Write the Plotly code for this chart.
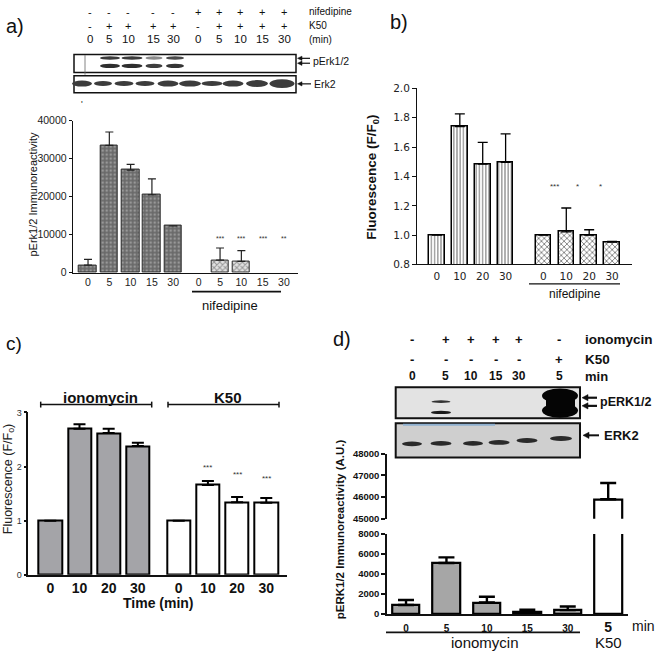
import plotly.graph_objects as go

W, H = 662, 658


def X(px):
    return px / W


def Y(py):
    return 1 - py / H


# ---------------- data ----------------
# panel a
a_labels = ["0", "5", "10", "15", "30", "0", "5", "10", "15", "30"]
a_ctrl_vals = [2000, 33500, 27000, 20500, 12300]
a_ctrl_err = [1500, 3500, 1500, 4200, 0]
a_nif_vals = [0, 3300, 3000, 0, 0]
a_nif_err = [0, 3200, 2800, 0, 0]
a_nif_stars = ["", "***", "***", "***", "**"]
a_nif_row = ["-"] * 5 + ["+"] * 5
a_k50_row = ["-", "+", "+", "+", "+", "-", "+", "+", "+", "+"]
a_ticks = [0, 10000, 20000, 30000, 40000]

# panel b
b_labels = ["0", "10", "20", "30"]
b_ctrl_vals = [1.0, 1.74, 1.485, 1.497]
b_ctrl_err = [0, 0.087, 0.148, 0.193]
b_nif_vals = [1.0, 1.022, 1.0, 0.952]
b_nif_err = [0, 0.163, 0.037, 0.006]
b_stars = ["***", "*", "*", ""]
b_ticks = [0.8, 1.0, 1.2, 1.4, 1.6, 1.8, 2.0]

# panel c
c_labels = ["0", "10", "20", "30"]
c_iono_vals = [1.0, 2.70, 2.62, 2.38]
c_iono_err = [0, 0.08, 0.08, 0.06]
c_k50_vals = [1.0, 1.66, 1.34, 1.33]
c_k50_err = [0, 0.075, 0.095, 0.09]
c_stars = ["", "***", "***", "***"]
c_ticks = [0, 1, 2, 3]

# panel d
d_labels = ["0", "5", "10", "15", "30", "5"]
d_vals = [900, 5100, 1150, 260, 390, 45900]
d_err = [500, 550, 580, 160, 360, 750]
d_iono_row = ["-", "+", "+", "+", "+", "-"]
d_k50_row = ["-", "-", "-", "-", "-", "+"]
d_low_ticks = [0, 2000, 4000, 6000, 8000]
d_high_ticks = [45000, 46000, 47000, 48000]

# ---------------- layout helpers ----------------
a_pos_c = [float(i) for i in range(len(a_ctrl_vals))]
a_pos_n = [i + 5.2 for i in range(len(a_nif_vals))]
b_pos_c = [float(i) for i in range(len(b_ctrl_vals))]
b_pos_n = [i + 4.65 for i in range(len(b_nif_vals))]
c_pos_i = [float(i) for i in range(len(c_iono_vals))]
c_pos_k = [i + 4.4 for i in range(len(c_k50_vals))]
d_pos = [float(i) for i in range(len(d_vals))]

AR = "Liberation Sans"
DV = "DejaVu Sans"

fig = go.Figure()


def nz(v):
    # zero-height bars are not drawn in the reference
    return [x if x else None for x in v]


def errs(v):
    return dict(type="data", symmetric=False, array=v, arrayminus=[0] * len(v))


# panel a bars
fig.add_bar(x=a_pos_c, y=a_ctrl_vals, xaxis="x", yaxis="y", width=0.83,
            marker=dict(color="#6c6c6c", line=dict(color="#2a2a2a", width=1),
                        pattern=dict(shape=".", fgcolor="#c6c6c6", bgcolor="#6a6a6a",
                                     size=4, solidity=0.3)),
            error_y=dict(**errs(a_ctrl_err), color="#222", thickness=1.2, width=4),
            showlegend=False)
fig.add_bar(x=a_pos_n, y=nz(a_nif_vals), xaxis="x", yaxis="y", width=0.83,
            marker=dict(color="#9a9a9a", line=dict(color="#2a2a2a", width=1),
                        pattern=dict(shape="x", fgcolor="#4a4a4a", bgcolor="#e2e2e2",
                                     size=4, solidity=0.45)),
            error_y=dict(**errs(a_nif_err), color="#222", thickness=1.2, width=4),
            showlegend=False)

# panel b bars
fig.add_bar(x=b_pos_c, y=b_ctrl_vals, base=0, xaxis="x2", yaxis="y2", width=0.68,
            marker=dict(color="white", line=dict(color="black", width=1.5),
                        pattern=dict(shape="|", fgcolor="black", bgcolor="white",
                                     size=3.2, solidity=0.35)),
            error_y=dict(**errs(b_ctrl_err), color="black", thickness=1.3, width=5),
            showlegend=False)
fig.add_bar(x=b_pos_n, y=b_nif_vals, base=0, xaxis="x2", yaxis="y2", width=0.68,
            marker=dict(color="white", line=dict(color="black", width=1.5),
                        pattern=dict(shape="x", fgcolor="black", bgcolor="white",
                                     size=4, solidity=0.4)),
            error_y=dict(**errs(b_nif_err), color="black", thickness=1.3, width=5),
            showlegend=False)

# panel c bars
fig.add_bar(x=c_pos_i, y=c_iono_vals, xaxis="x3", yaxis="y3", width=0.8,
            marker=dict(color="#a4a4a8", line=dict(color="black", width=2)),
            error_y=dict(**errs(c_iono_err), color="black", thickness=2, width=6),
            showlegend=False)
fig.add_bar(x=c_pos_k, y=c_k50_vals, xaxis="x3", yaxis="y3", width=0.8,
            marker=dict(color="white", line=dict(color="black", width=2)),
            error_y=dict(**errs(c_k50_err), color="black", thickness=2, width=6),
            showlegend=False)

# panel d bars (broken axis: same data in lower and upper segment)
d_cols = ["#a6a6a6"] * 5 + ["white"]
for xa, ya in (("x4", "y4"), ("x5", "y5")):
    fig.add_bar(x=d_pos, y=d_vals, xaxis=xa, yaxis=ya, width=0.68,
                marker=dict(color=d_cols, line=dict(color="black", width=2.2)),
                error_y=dict(**errs(d_err), color="black", thickness=2.4, width=8),
                showlegend=False)

# ---------------- axes ----------------
def yax(dom, rng, tv, tt, font, lw=1, tl=3, anchor="x"):
    return dict(domain=dom, range=rng, anchor=anchor, showline=True, linecolor="#111",
                linewidth=lw, ticks="outside", ticklen=tl, tickwidth=lw, tickcolor="#111",
                tickvals=tv, ticktext=tt, tickfont=font, showgrid=False, zeroline=False,
                fixedrange=True)


def xax(dom, rng, tv, tt, font, lw=1, anchor="y", show=True, so=0):
    return dict(domain=dom, range=rng, anchor=anchor, showline=show, linecolor="#111",
                linewidth=lw, ticks="", ticklen=0, tickvals=tv, ticktext=tt, tickfont=font,
                showticklabels=show, showgrid=False, zeroline=False, fixedrange=True,
                ticklabelstandoff=so)


fa = dict(family=AR, size=10.5, color="#222")
fb = dict(family=DV, size=10.5, color="#222")
fc_y = dict(family=AR, size=9, color="#333")
fc_x = dict(family=AR, size=14, color="#111", weight="bold")
fd = dict(family=AR, size=9.5, color="#111", weight="bold")
fd_x = dict(family=AR, size=10, color="#111", weight="bold")

d_ticktext = d_labels[:-1] + ["<span style='font-size:14px'>" + d_labels[-1] + "</span>"]

fig.update_layout(
    xaxis=xax([X(72.7), X(298)], [-0.72, 9.86], a_pos_c + a_pos_n, a_labels, fa, anchor="y"),
    yaxis=yax([Y(271.7), Y(116.7)], [0, 40000], a_ticks, [str(t) for t in a_ticks], fa, anchor="x"),
    xaxis2=xax([X(417), X(632)], [-0.87, 8.52], b_pos_c + b_pos_n, b_labels + b_labels, fb, anchor="y2", so=2),
    yaxis2=yax([Y(263.3), Y(84)], [0.8, 2.0], b_ticks, ["%.1f" % t for t in b_ticks], fb, tl=4, anchor="x2"),
    xaxis3=xax([X(28.3), X(287)], [-0.754, 8.11], c_pos_i + c_pos_k, c_labels + c_labels, fc_x, lw=1.5, anchor="y3"),
    yaxis3=yax([Y(579.3), Y(414)], [0, 3], c_ticks, [str(t) for t in c_ticks], fc_y, lw=1.5, tl=3, anchor="x3"),
    xaxis4=xax([X(387.3), X(628)], [-0.463, 5.49], d_pos, d_ticktext, fd_x, lw=2, anchor="y4", so=4),
    yaxis4=yax([Y(619.3), Y(537.7)], [0, 8000], d_low_ticks, [str(t) for t in d_low_ticks], fd, lw=2, tl=4, anchor="x4"),
    xaxis5=xax([X(387.3), X(628)], [-0.463, 5.49], d_pos, d_labels, fd_x, lw=2, anchor="y5", show=False),
    yaxis5=yax([Y(522.3), Y(456)], [45000, 48000], d_high_ticks, [str(t) for t in d_high_ticks], fd, lw=2, tl=4, anchor="x5"),
)

# ---------------- annotations & shapes ----------------
ann = []
shp = []


def txt(x, y, s, size, family=AR, bold=False, xanchor="center", angle=0, color="#111"):
    ann.append(dict(x=X(x), y=Y(y), xref="paper", yref="paper", text=s, showarrow=False,
                    xanchor=xanchor, yanchor="middle", textangle=angle,
                    font=dict(family=family, size=size, color=color,
                              weight="bold" if bold else "normal")))


def line(x0, y0, x1, y1, w=1.5, color="#111"):
    shp.append(dict(type="line", xref="paper", yref="paper", x0=X(x0), y0=Y(y0),
                    x1=X(x1), y1=Y(y1), line=dict(color=color, width=w)))


def rect(x0, y0, x1, y1, fill="white", lw=1.5, lc="#111"):
    shp.append(dict(type="rect", xref="paper", yref="paper", x0=X(x0), y0=Y(y1),
                    x1=X(x1), y1=Y(y0), fillcolor=fill,
                    line=dict(color=lc, width=lw)))


def band(cx, cy, w, h, color):
    shp.append(dict(type="circle", xref="paper", yref="paper", x0=X(cx - w / 2),
                    x1=X(cx + w / 2), y0=Y(cy + h / 2), y1=Y(cy - h / 2),
                    fillcolor=color, line=dict(width=0)))


def arrow(xh, y, xt, w=1.3, hl=5, hw=2.5):
    # left-pointing arrow: shaft + filled triangular head
    line(xh + hl - 0.5, y, xt, y, w=w)
    path = "M %f,%f L %f,%f L %f,%f Z" % (X(xh), Y(y), X(xh + hl), Y(y - hw),
                                          X(xh + hl), Y(y + hw))
    shp.append(dict(type="path", xref="paper", yref="paper", path=path,
                    fillcolor="#111", line=dict(color="#111", width=0.5)))


def sub_star(xref, yref, x, y, s, size, xshift=0):
    ann.append(dict(x=x, y=y, xref=xref, yref=yref, text=s, showarrow=False,
                    xshift=xshift, yanchor="middle",
                    font=dict(family=AR, size=size, color="#333")))


# ---- panel a ----
txt(4, 20, "a)", 20, xanchor="left")
a_cols = [90, 109, 128, 153, 173, 198, 219, 240, 262, 284]
for cx, s1, s2, s3 in zip(a_cols, a_nif_row, a_k50_row, a_labels):
    txt(cx, 6, s1, 11)
    txt(cx, 20, s2, 11)
    txt(cx, 34, s3, 11.5)
txt(307, 6, "nifedipine", 10, xanchor="left")
txt(307, 20, "K50", 10, xanchor="left")
txt(307, 34, "(min)", 10, xanchor="left")
rect(74, 49.3, 296, 67.7)
rect(74, 71, 296, 88.3)
line(85, 50, 85, 70, w=0.8, color="#666")
for cx, w, up, lo in [(110, 20, "#3a3a3a", "#2e2e2e"), (132, 21, "#3a3a3a", "#2e2e2e"),
                      (154, 17, "#8a8a8a", "#3e3e3e"), (175, 18, "#4a4a4a", "#353535")]:
    band(cx, 53, w, 3.4, up)
    band(cx, 61, w, 4.4, lo)
for cx, w, h in [(82, 20, 6), (103, 18, 5), (124, 19, 5), (145, 19, 5), (168, 21, 6),
                 (190, 22, 6), (212, 21, 5), (233, 21, 6), (257, 22, 7), (282, 25, 9)]:
    band(cx, 79, w, h, "#3c3c3c")
arrow(297.5, 53.3, 310, w=1.2, hl=4.5, hw=2.2)
arrow(297.5, 58.3, 310, w=1.2, hl=4.5, hw=2.2)
txt(311, 56.5, "pErk1/2", 10.5, xanchor="left")
arrow(297.5, 79.3, 311, w=1.2, hl=4.5, hw=2.2)
txt(312, 79.3, "Erk2", 10.5, xanchor="left")
txt(82, 100, "ʹ", 9)
txt(33, 192, "pErk1/2 Immunoreactivity", 11, angle=-90)
for x, s in zip(a_pos_n, a_nif_stars):
    if s:
        sub_star("x", "y", x, 9000, s, 7)
line(192, 291, 281, 291, w=1.8)
txt(230, 305, "nifedipine", 13)

# ---- panel b ----
txt(388, 16, "b)", 20, xanchor="left")
txt(373, 175, "Fluorescence (F/F<sub>0</sub>)", 13.5, bold=True, angle=-90)
for x, s in zip(b_pos_n, b_stars):
    if s:
        sub_star("x2", "y2", x, 1.335, s, 8, xshift=11)
line(529, 283, 620, 283, w=1.2)
txt(575, 293.5, "nifedipine", 12)

# ---- panel c ----
txt(4, 344, "c)", 19, xanchor="left")
txt(9, 482, "Fluorescence (F/F<sub>o</sub>)", 12.5, angle=-90, color="#222")
for x0, x1 in [(40.7, 151.7), (168, 279)]:
    line(x0, 406, x1, 406, w=1.5)
    line(x0, 403, x0, 409, w=1.5)
    line(x1, 403, x1, 409, w=1.5)
txt(100, 399, "ionomycin", 15, bold=True)
txt(228, 399, "K50", 15, bold=True)
c_star_y = [0, 1.98, 1.86, 1.78]
for x, s, yy in zip(c_pos_k, c_stars, c_star_y):
    if s:
        sub_star("x3", "y3", x, yy, s, 8)
txt(158, 608, "Time (min)", 14, bold=True)

# ---- panel d ----
txt(331, 339, "d)", 20, xanchor="left")
d_cols = [412, 445.5, 471, 495.5, 518.5, 559]
for cx, s1, s2, s3 in zip(d_cols, d_iono_row, d_k50_row, d_labels):
    txt(cx, 340, s1, 13, bold=True)
    txt(cx, 360, s2, 13, bold=True)
    txt(cx, 377, s3, 12, bold=True)
txt(583, 340, "ionomycin", 13.5, bold=True, xanchor="left")
txt(583, 360, "K50", 13.5, bold=True, xanchor="left")
txt(583, 377, "min", 13, bold=True, xanchor="left")
rect(395.7, 388.3, 580, 420, fill="#e3e3e3", lw=2)
band(441, 403, 19, 2.6, "#333")
band(441, 414, 20, 3.4, "#1a1a1a")
band(560, 397, 36, 15, "#050505")
band(560, 412, 36, 15, "#050505")
rect(546, 395, 575, 414, fill="#050505", lw=0)
rect(395.7, 425, 580, 460, fill="#cfcfcf", lw=2)
line(403, 426.5, 495, 426.5, w=2, color="#8fb0cf")
for cx, cy, w in [(412, 446, 20), (441, 445.5, 21), (473, 445.5, 20),
                  (499, 444.5, 21), (527, 442.5, 21), (561, 440.5, 22)]:
    band(cx, cy, w, 5, "#2a2a2a")
arrow(582, 399, 597, w=2.2, hl=6, hw=3.2)
arrow(582, 407.3, 597, w=2.2, hl=6, hw=3.2)
txt(598, 403.3, "pERK1/2", 12.5, bold=True, xanchor="left")
arrow(583, 437.3, 599, w=2, hl=6, hw=3.2)
txt(602, 437.3, "ERK2", 13, bold=True, xanchor="left")
txt(340, 533, "pERK1/2 Immunoreactivity (A.U.)", 11.5, bold=True, angle=-90)
line(386, 638, 580, 638, w=1.8)
txt(485, 648, "ionomycin", 15)
txt(608, 648, "K50", 15)
txt(630, 632, "min", 14, xanchor="left")

fig.update_layout(
    width=W, height=H, autosize=False,
    margin=dict(l=0, r=0, t=0, b=0),
    paper_bgcolor="white", plot_bgcolor="rgba(0,0,0,0)",
    barmode="overlay", bargap=0, showlegend=False,
    annotations=ann, shapes=shp,
)

fig.write_html("out.html", config={"displayModeBar": False},
               post_script="document.body.style.margin='0';document.body.style.overflow='hidden';")
